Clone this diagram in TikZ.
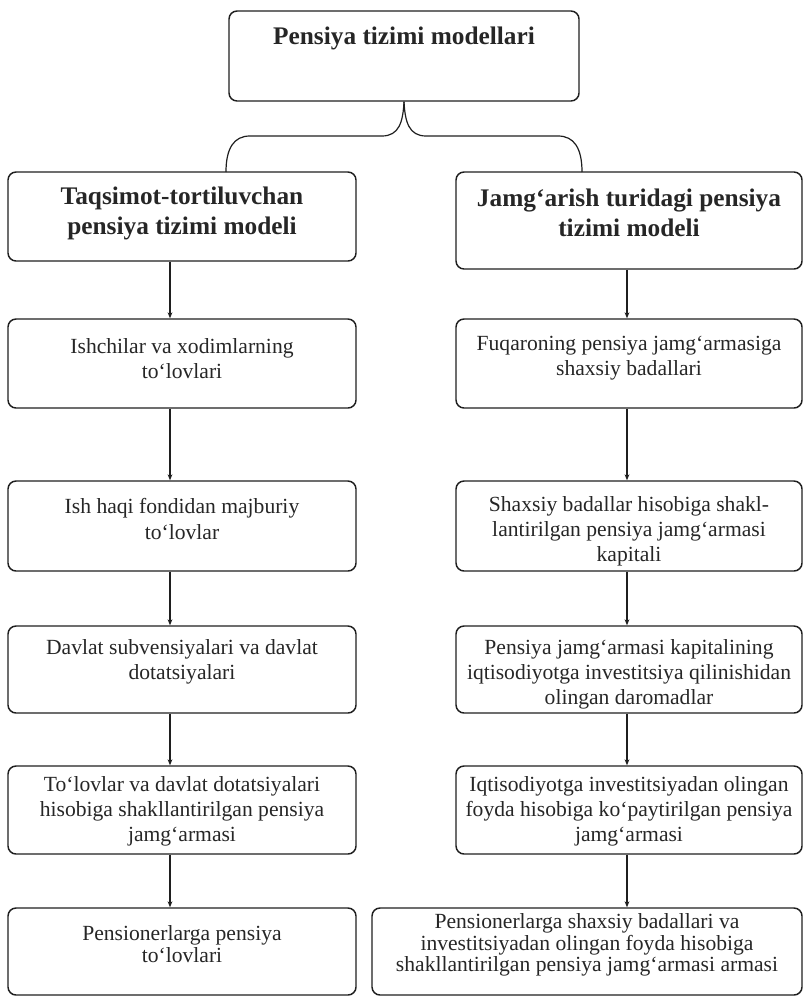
\documentclass[tikz,border=0pt]{standalone}
\usepackage{fontspec}
\setmainfont{Liberation Serif}
\usetikzlibrary{arrows.meta}
\begin{document}
\begin{tikzpicture}[x=0.75pt,y=-0.75pt,
  box/.style={draw=black!88, line width=1.1pt, rounded corners=6pt, inner sep=0pt},
  txt/.style={align=center, inner sep=0pt, text=black!85, font=\fontsize{16.2}{18.8}\selectfont},
  ttxt/.style={align=center, inner sep=0pt, text=black!85, font=\fontsize{16.2}{16.2}\selectfont},
  btxt/.style={align=center, inner sep=0pt, text=black!85, font=\bfseries\fontsize{19}{22.5}\selectfont},
  arr/.style={draw=black!88, line width=0.8pt, -{Stealth[length=4.5pt,width=3.6pt]}},
  brace/.style={draw=black!88, line width=0.9pt}
]
\useasboundingbox (0,0) rectangle (805,996);

% top box
\node[box, minimum width=262.5pt, minimum height=67.5pt] (top) at (404,56) {};
\node[btxt] (topt) at (404,38) {Pensiya tizimi modellari};

% level 1
\node[box, minimum width=261pt, minimum height=66.75pt] (l1) at (182,216.5) {};
\node[btxt] (l1t) at (182,213) {Taqsimot-tortiluvchan\\pensiya tizimi modeli};
\node[box, minimum width=259.5pt, minimum height=72.75pt] (r1) at (629,220.5) {};
\node[btxt] (r1t) at (629,213) {Jamg‘arish turidagi pensiya\\tizimi modeli};

% level 2
\node[box, minimum width=261pt, minimum height=66.75pt] (l2) at (182,363.5) {};
\node[txt] (l2t) at (182,358.5) {Ishchilar va xodimlarning\\to‘lovlari};
\node[box, minimum width=259.5pt, minimum height=66.75pt] (r2) at (629,363.5) {};
\node[txt] (r2t) at (629,358.5) {Fuqaroning pensiya jamg‘armasiga\\shaxsiy badallari};

% level 3
\node[box, minimum width=261pt, minimum height=67.5pt] (l3) at (182,526) {};
\node[txt] (l3t) at (182,519) {Ish haqi fondidan majburiy\\to‘lovlar};
\node[box, minimum width=259.5pt, minimum height=67.5pt] (r3) at (629,526) {};
\node[txt] (r3t) at (629,531) {Shaxsiy badallar hisobiga shakl-\\lantirilgan pensiya jamg‘armasi\\kapitali};

% level 4
\node[box, minimum width=261pt, minimum height=65.25pt] (l4) at (182,669.5) {};
\node[txt] (l4t) at (182,662) {Davlat subvensiyalari va davlat\\dotatsiyalari};
\node[box, minimum width=259.5pt, minimum height=65.25pt] (r4) at (629,669.5) {};
\node[txt] (r4t) at (629,674) {Pensiya jamg‘armasi kapitalining\\iqtisodiyotga investitsiya qilinishidan\\olingan daromadlar};

% level 5
\node[box, minimum width=261pt, minimum height=66pt] (l5) at (182,810) {};
\node[txt] (l5t) at (182,811) {To‘lovlar va davlat dotatsiyalari\\hisobiga shakllantirilgan pensiya\\jamg‘armasi};
\node[box, minimum width=259.5pt, minimum height=66pt] (r5) at (629,810) {};
\node[txt] (r5t) at (629,811) {Iqtisodiyotga investitsiyadan olingan\\foyda hisobiga ko‘paytirilgan pensiya\\jamg‘armasi};

% level 6
\node[box, minimum width=261pt, minimum height=65.25pt] (l6) at (182,951.5) {};
\node[ttxt] (l6t) at (182,944) {Pensionerlarga pensiya\\to‘lovlari};
\node[box, minimum width=322.5pt, minimum height=65.25pt] (r6) at (587,951.5) {};
\node[ttxt] (r6t) at (587,945) {Pensionerlarga shaxsiy badallari va\\investitsiyadan olingan foyda hisobiga\\shakllantirilgan pensiya jamg‘armasi armasi};

% brace
\coordinate (bl) at (226,172);
\coordinate (br) at (582,172);
\draw[brace] (top.south) .. controls (403,122) and (399,136) .. (382,136) -- (250,136) .. controls (234,136) and (226,148) .. (bl);
\draw[brace] (top.south) .. controls (405,122) and (409,136) .. (426,136) -- (558,136) .. controls (574,136) and (582,148) .. (br);

% arrows left
\draw[arr] ([xshift=-9pt]l1.south) -- ([xshift=-9pt]l2.north);
\draw[arr] ([xshift=-9pt]l2.south) -- ([xshift=-9pt]l3.north);
\draw[arr] ([xshift=-9pt]l3.south) -- ([xshift=-9pt]l4.north);
\draw[arr] ([xshift=-9pt]l4.south) -- ([xshift=-9pt]l5.north);
\draw[arr] ([xshift=-9pt]l5.south) -- ([xshift=-9pt]l6.north);

% arrows right
\draw[arr] ([xshift=-1.5pt]r1.south) -- ([xshift=-1.5pt]r2.north);
\draw[arr] ([xshift=-1.5pt]r2.south) -- ([xshift=-1.5pt]r3.north);
\draw[arr] ([xshift=-1.5pt]r3.south) -- ([xshift=-1.5pt]r4.north);
\draw[arr] ([xshift=-1.5pt]r4.south) -- ([xshift=-1.5pt]r5.north);
\draw[arr] ([xshift=-1.5pt]r5.south) -- ([xshift=-1.5pt]r5.south |- r6.north);
\end{tikzpicture}
\end{document}
